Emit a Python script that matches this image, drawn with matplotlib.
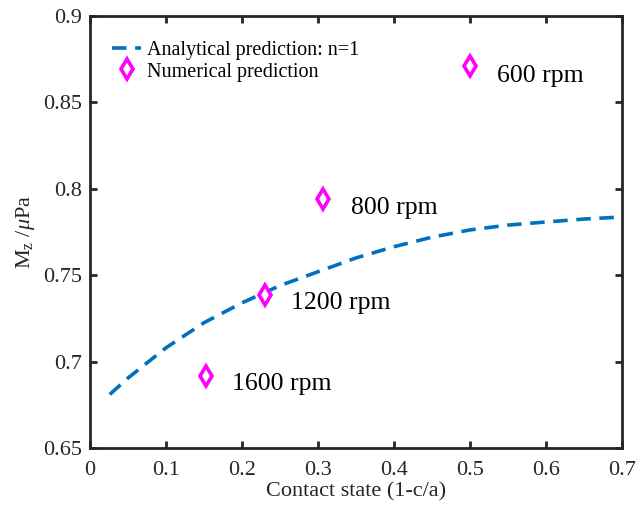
import matplotlib
matplotlib.use('Agg')
import matplotlib.pyplot as plt

plt.rcParams['font.family'] = ['Liberation Serif', 'DejaVu Serif']
plt.rcParams['mathtext.fontset'] = 'custom'
plt.rcParams['mathtext.rm'] = 'Liberation Serif'
plt.rcParams['mathtext.it'] = 'Liberation Serif:italic'

# analytical curve
curve_x = [0.026, 0.05, 0.1, 0.15, 0.2, 0.25, 0.3, 0.35, 0.4, 0.45, 0.5, 0.55, 0.6, 0.65, 0.7]
curve_y = [0.681, 0.6905, 0.708, 0.7225, 0.734, 0.744, 0.752, 0.760, 0.7665, 0.772, 0.7762, 0.779, 0.7808, 0.7825, 0.7837]

# numerical points
num_x = [0.153, 0.230, 0.307, 0.500]
num_y = [0.6917, 0.7385, 0.794, 0.871]
num_labels = ['1600 rpm', '1200 rpm', '800 rpm', '600 rpm']
label_pos = [(0.187, 0.687), (0.264, 0.734), (0.343, 0.789), (0.536, 0.865)]

fig = plt.figure(figsize=(6.36, 5.08), dpi=100)
ax = fig.add_axes([0.1415, 0.1181, 0.8365, 0.8504])

ax.plot(curve_x, curve_y, '--', color='#0072BD', linewidth=2.6, dashes=(4, 2.4),
        label='Analytical prediction: n=1')
ax.plot(num_x, num_y, 'd', color='#FF00FF', markerfacecolor='white', markersize=10,
        markeredgewidth=2.6, linestyle='none', label='Numerical prediction')

for (tx, ty), lab in zip(label_pos, num_labels):
    ax.text(tx, ty, lab, fontsize=18.5, va='center', ha='left')

ax.set_xlim(0, 0.7)
ax.set_ylim(0.65, 0.9)
ax.set_xticks([0, 0.1, 0.2, 0.3, 0.4, 0.5, 0.6, 0.7])
ax.set_xticklabels(['0', '0.1', '0.2', '0.3', '0.4', '0.5', '0.6', '0.7'])
ax.set_yticks([0.65, 0.7, 0.75, 0.8, 0.85, 0.9])
ax.set_yticklabels(['0.65', '0.7', '0.75', '0.8', '0.85', '0.9'])
ax.tick_params(direction='in', top=True, right=True, length=5, width=2, pad=6,
               labelsize=16, colors='#262626', labelcolor='#262626')
ax.tick_params(axis='x', pad=9)
for s in ax.spines.values():
    s.set_linewidth(2)
    s.set_color('#262626')

ax.set_xlabel('Contact state (1-c/a)', fontsize=16, color='#262626', labelpad=2)
ax.set_ylabel(r'M$_{\rm z}$ /$\mu$Pa', fontsize=16, color='#262626', labelpad=4)

leg = ax.legend(loc='upper left', frameon=False, fontsize=14.5, handlelength=1.4,
                handletextpad=0.3, borderaxespad=0.0, labelspacing=0.1,
                bbox_to_anchor=(0.027, 0.96))

fig.savefig('out.png', dpi=100)
